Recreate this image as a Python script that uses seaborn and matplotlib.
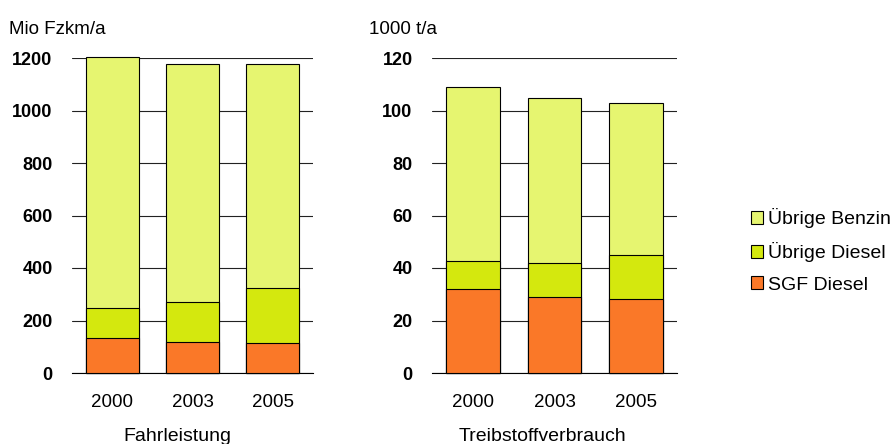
import matplotlib
matplotlib.use("Agg")
import matplotlib.pyplot as plt
import seaborn as sns
import pandas as pd
import numpy as np
from matplotlib.patches import Patch

sns.set_theme(style="white")
plt.rcParams["font.family"] = ["Liberation Sans", "DejaVu Sans"]
plt.rcParams["text.color"] = "black"
plt.rcParams["xtick.color"] = "black"
plt.rcParams["ytick.color"] = "black"

years = ["2000", "2003", "2005"]
series = ["SGF Diesel", "Übrige Diesel", "Übrige Benzin"]
colors = {"SGF Diesel": "#FA7828", "Übrige Diesel": "#D4E80E", "Übrige Benzin": "#E6F570"}

# Fahrleistung, Mio Fzkm/a
fahr_sgf = [135, 117, 114]
fahr_diesel = [114, 153, 209]
fahr_benzin = [955, 908, 854]

# Treibstoffverbrauch, 1000 t/a
treib_sgf = [32.1, 29.0, 28.3]
treib_diesel = [10.7, 13.0, 16.7]
treib_benzin = [66.2, 62.8, 57.8]

panels = [
    dict(vals=[fahr_sgf, fahr_diesel, fahr_benzin], ymax=1200, step=200,
         unit="Mio Fzkm/a", title="Fahrleistung"),
    dict(vals=[treib_sgf, treib_diesel, treib_benzin], ymax=120, step=20,
         unit="1000 t/a", title="Treibstoffverbrauch"),
]

fig = plt.figure(figsize=(8.9, 4.44), dpi=100)
W, H = 890, 444
rects = [(72, 313), (432, 677)]
top_px, bot_px = 58, 373

for (x0, x1), p in zip(rects, panels):
    ax = fig.add_axes([x0 / W, 1 - bot_px / H, (x1 - x0) / W, (bot_px - top_px) / H])
    cum = np.cumsum(np.array(p["vals"]), axis=0)
    # draw stacked layers back to front using cumulative heights
    for i in reversed(range(len(series))):
        df = pd.DataFrame({"year": years, "value": cum[i]})
        sns.barplot(data=df, x="year", y="value", color=colors[series[i]],
                    saturation=1, width=0.66, edgecolor="black", linewidth=0.8,
                    ax=ax, zorder=3)
    for patch in ax.patches:
        patch.set_clip_on(False)
    ax.set_ylim(0, p["ymax"])
    ax.set_xlim(-0.5, 2.5)
    ax.set_yticks(np.arange(0, p["ymax"] + 1, p["step"]))
    ax.yaxis.grid(True, color="#222222", linewidth=0.8, zorder=0)
    ax.set_axisbelow(True)
    for s in ["left", "right", "top"]:
        ax.spines[s].set_visible(False)
    ax.spines["bottom"].set_color("black")
    ax.spines["bottom"].set_linewidth(0.8)
    ax.tick_params(axis="y", length=0, pad=14, labelsize=13)
    ax.tick_params(axis="x", length=0, pad=15, labelsize=13.5)
    for lab in ax.get_yticklabels():
        lab.set_fontweight("bold")
    ax.set_xlabel("")
    ax.set_ylabel("")

fig.text(9 / W, 1 - 30 / H, panels[0]["unit"], fontsize=13.5, va="center", ha="left")
fig.text(369 / W, 1 - 30 / H, panels[1]["unit"], fontsize=13.5, va="center", ha="left")
fig.text(177 / W, 1 - 436 / H, panels[0]["title"], fontsize=14, va="center", ha="center")
fig.text(542 / W, 1 - 436 / H, panels[1]["title"], fontsize=14, va="center", ha="center")

handles = [Patch(facecolor=colors[s], edgecolor="black", linewidth=0.8, label=s)
           for s in reversed(series)]
fig.legend(handles=handles, loc="center left", bbox_to_anchor=(751 / W, 1 - 251 / H),
           frameon=False, fontsize=14, handlelength=0.6, handleheight=0.6,
           handletextpad=0.3, labelspacing=0.72, borderaxespad=0, borderpad=0)

fig.savefig("out.png", dpi=100)
